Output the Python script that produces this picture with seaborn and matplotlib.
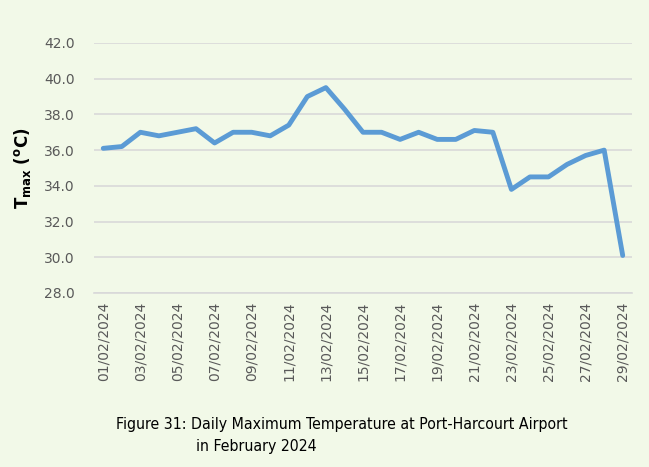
import numpy as np
import pandas as pd
import matplotlib
matplotlib.use('Agg')
import matplotlib.pyplot as plt
import seaborn as sns

# daily maximum temperature, Port-Harcourt Airport, February 2024
days = list(range(1, 30))
date_labels = [f"{d:02d}/02/2024" for d in days]
tmax = [36.1, 36.2, 37.0, 36.8, 37.0, 37.2, 36.4, 37.0, 37.0, 36.8,
        37.4, 39.0, 39.5, 38.3, 37.0, 37.0, 36.6, 37.0, 36.6, 36.6,
        37.1, 37.0, 33.8, 34.5, 34.5, 35.2, 35.7, 36.0, 30.1]
y_ticks = [28, 30, 32, 34, 36, 38, 40, 42]

bg = '#F2F9E8'
line_color = '#5B9BD5'
text_color = '#595959'

sns.set_theme(style='white')
plt.rcParams['font.family'] = ['DejaVu Sans']
plt.rcParams['mathtext.fontset'] = 'dejavusans'

df = pd.DataFrame({'pos': np.arange(len(days)), 'tmax': tmax})

fig = plt.figure(figsize=(6.49, 4.67), dpi=100, facecolor=bg)
ax = fig.add_axes([0.1448, 0.3726, 0.829, 0.5354])
ax.set_facecolor(bg)

sns.lineplot(data=df, x='pos', y='tmax', ax=ax, color=line_color,
             linewidth=3.5, solid_capstyle='round', solid_joinstyle='round')

ax.set_ylim(y_ticks[0], y_ticks[-1])
ax.set_yticks(y_ticks)
ax.set_yticklabels([f"{v:.1f}" for v in y_ticks], color=text_color, fontsize=10)
ax.yaxis.grid(True, color='#D9D9D9', linewidth=1.2)
ax.set_axisbelow(True)

ax.set_xlim(-0.5, len(days) - 0.5)
major = np.arange(0, len(days), 2)
ax.set_xticks(major)
ax.set_xticklabels([date_labels[i] for i in major], rotation=90,
                   color=text_color, fontsize=10)
ax.set_xticks(np.arange(-0.5, len(days), 2), minor=True)
ax.tick_params(axis='x', which='major', length=0, pad=6)
ax.tick_params(axis='x', which='minor', length=4, color='#D9D9D9', width=1)
ax.tick_params(axis='y', length=0, pad=14)

for s in ['top', 'right', 'left']:
    ax.spines[s].set_visible(False)
ax.spines['bottom'].set_color('#D9D9D9')
ax.spines['bottom'].set_linewidth(1.2)

ax.set_xlabel('')
ax.set_ylabel(r'$\mathbf{T_{max}\ (^{o}C)}$', fontsize=12, color='black', labelpad=8)

cap_font = dict(ha='left', va='center', fontsize=11.3, family='DejaVu Sans',
                fontstretch='condensed', color='black')
fig.text(116 / 649, 1 - 425 / 467,
         "Figure 31: Daily Maximum Temperature at Port-Harcourt Airport", **cap_font)
fig.text(196 / 649, 1 - 447 / 467, "in February 2024", **cap_font)

fig.savefig('out.png', dpi=100, facecolor=bg)
